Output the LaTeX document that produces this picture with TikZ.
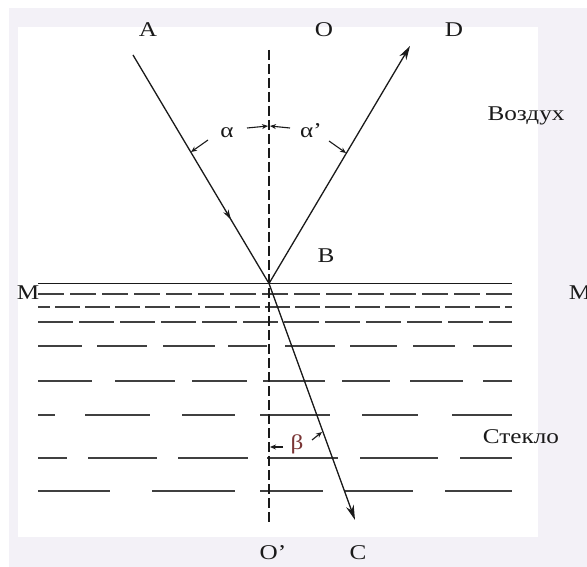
\documentclass[tikz,border=0pt]{standalone}
\usepackage{fontspec}
\setmainfont{Liberation Serif}
\usetikzlibrary{arrows.meta,decorations.markings}
\definecolor{lav}{HTML}{F3F1F7}
\definecolor{ink}{HTML}{1A1A1A}
\definecolor{glass}{HTML}{404040}
\definecolor{betac}{HTML}{7A3535}
\begin{document}
\begin{tikzpicture}[x=1pt,y=-1pt,
  lbl/.style={inner sep=0pt, text=ink, xscale=1.2, font=\fontsize{21}{23}\selectfont},
  ray/.style={draw=ink, line width=1.3pt},
  normalline/.style={draw=ink, line width=1.4pt, dash pattern=on 10pt off 4pt},
  glassline/.style={draw=glass, line width=1.8pt},
  stub/.style={draw=ink, line width=1.1pt, -{Stealth[length=6pt,width=5pt]}}]
\useasboundingbox (0,0) rectangle (587,567);
\fill[white] (0,0) rectangle (587,567);
\fill[lav] (9,8) rectangle (587,567);
\fill[white] (18,27) rectangle (538,537);

% glass layers
\draw[glassline, dash pattern=on 26pt off 6pt] (38,294) -- (512,294);
\draw[glassline, dash pattern=on 25pt off 5pt, dash phase=13pt] (38,307) -- (512,307);
\draw[glassline, dash pattern=on 35pt off 6pt] (38,322) -- (512,322);
\foreach \a/\b in {38/82,97/147,163/215,228/267,285/335,350/397,413/455,473/512}
  \draw[glassline] (\a,346) -- (\b,346);
\foreach \a/\b in {38/92,115/175,192/247,263/325,342/390,410/463,483/512}
  \draw[glassline] (\a,381) -- (\b,381);
\foreach \a/\b in {38/55,85/150,182/235,260/330,362/418,452/512}
  \draw[glassline] (\a,415) -- (\b,415);
\foreach \a/\b in {38/67,88/157,178/248,267/338,360/438,460/512}
  \draw[glassline] (\a,458) -- (\b,458);
\foreach \a/\b in {38/110,152/235,260/323,345/413,445/512}
  \draw[glassline] (\a,491) -- (\b,491);

% surface M-M
\coordinate (Ml) at (38,283.5);
\coordinate (Mr) at (512,283.5);
\draw[ink, line width=1.6pt] (Ml) -- (Mr);

% normal
\coordinate (Ntop) at (269,50);
\coordinate (Nbot) at (269,523);
\draw[normalline] (Ntop) -- (Nbot);

% rays
\coordinate (Astart) at (133,55);
\coordinate (B) at (269,283.5);
\coordinate (Dtip) at (410,46);
\coordinate (Ctip) at (355,520);
\draw[ray, postaction=decorate, decoration={markings,
  mark=at position 0.72 with {\arrow{Stealth[length=10pt,width=6pt]}}}] (Astart) -- (B);
\draw[ray, -{Stealth[length=14pt,width=8pt]}] (B) -- (Dtip);
\draw[ray, -{Stealth[length=15pt,width=8pt]}] (B) -- (Ctip);

% angle marks
\coordinate (a1s) at (208,140);  \coordinate (a1e) at (191,152);
\coordinate (a2s) at (247,128);  \coordinate (a2e) at (268,126);
\coordinate (a3s) at (290,128);  \coordinate (a3e) at (270,126);
\coordinate (a4s) at (329,141);  \coordinate (a4e) at (346,153);
\coordinate (b1s) at (283,447);  \coordinate (b1e) at (270,447);
\coordinate (b2s) at (312,440);  \coordinate (b2e) at (322,432);
\draw[stub] (a1s) -- (a1e);
\draw[stub] (a2s) -- (a2e);
\draw[stub] (a3s) -- (a3e);
\draw[stub] (a4s) -- (a4e);
\draw[stub] (b1s) -- (b1e);
\draw[stub] (b2s) -- (b2e);

% labels
\node[lbl] (lA) at (148,30) {A};
\node[lbl] (lO) at (324,30) {O};
\node[lbl] (lD) at (454,30) {D};
\node[lbl] (lB) at (326,256) {B};
\node[lbl] (lM1) at (28,293) {M};
\node[lbl] (lM2) at (580,293) {M};
\node[lbl] (lair) at (526,116) {Воздух};
\node[lbl] (lglass) at (521,437) {Стекло};
\node[lbl] (lalpha) at (227,133) {α};
\node[lbl] (lalpha2) at (311,131) {α’};
\node[lbl, text=betac] (lbeta) at (297,444) {β};
\node[lbl] (lO2) at (273,553) {O’};
\node[lbl] (lC) at (358,553) {C};
\end{tikzpicture}
\end{document}
